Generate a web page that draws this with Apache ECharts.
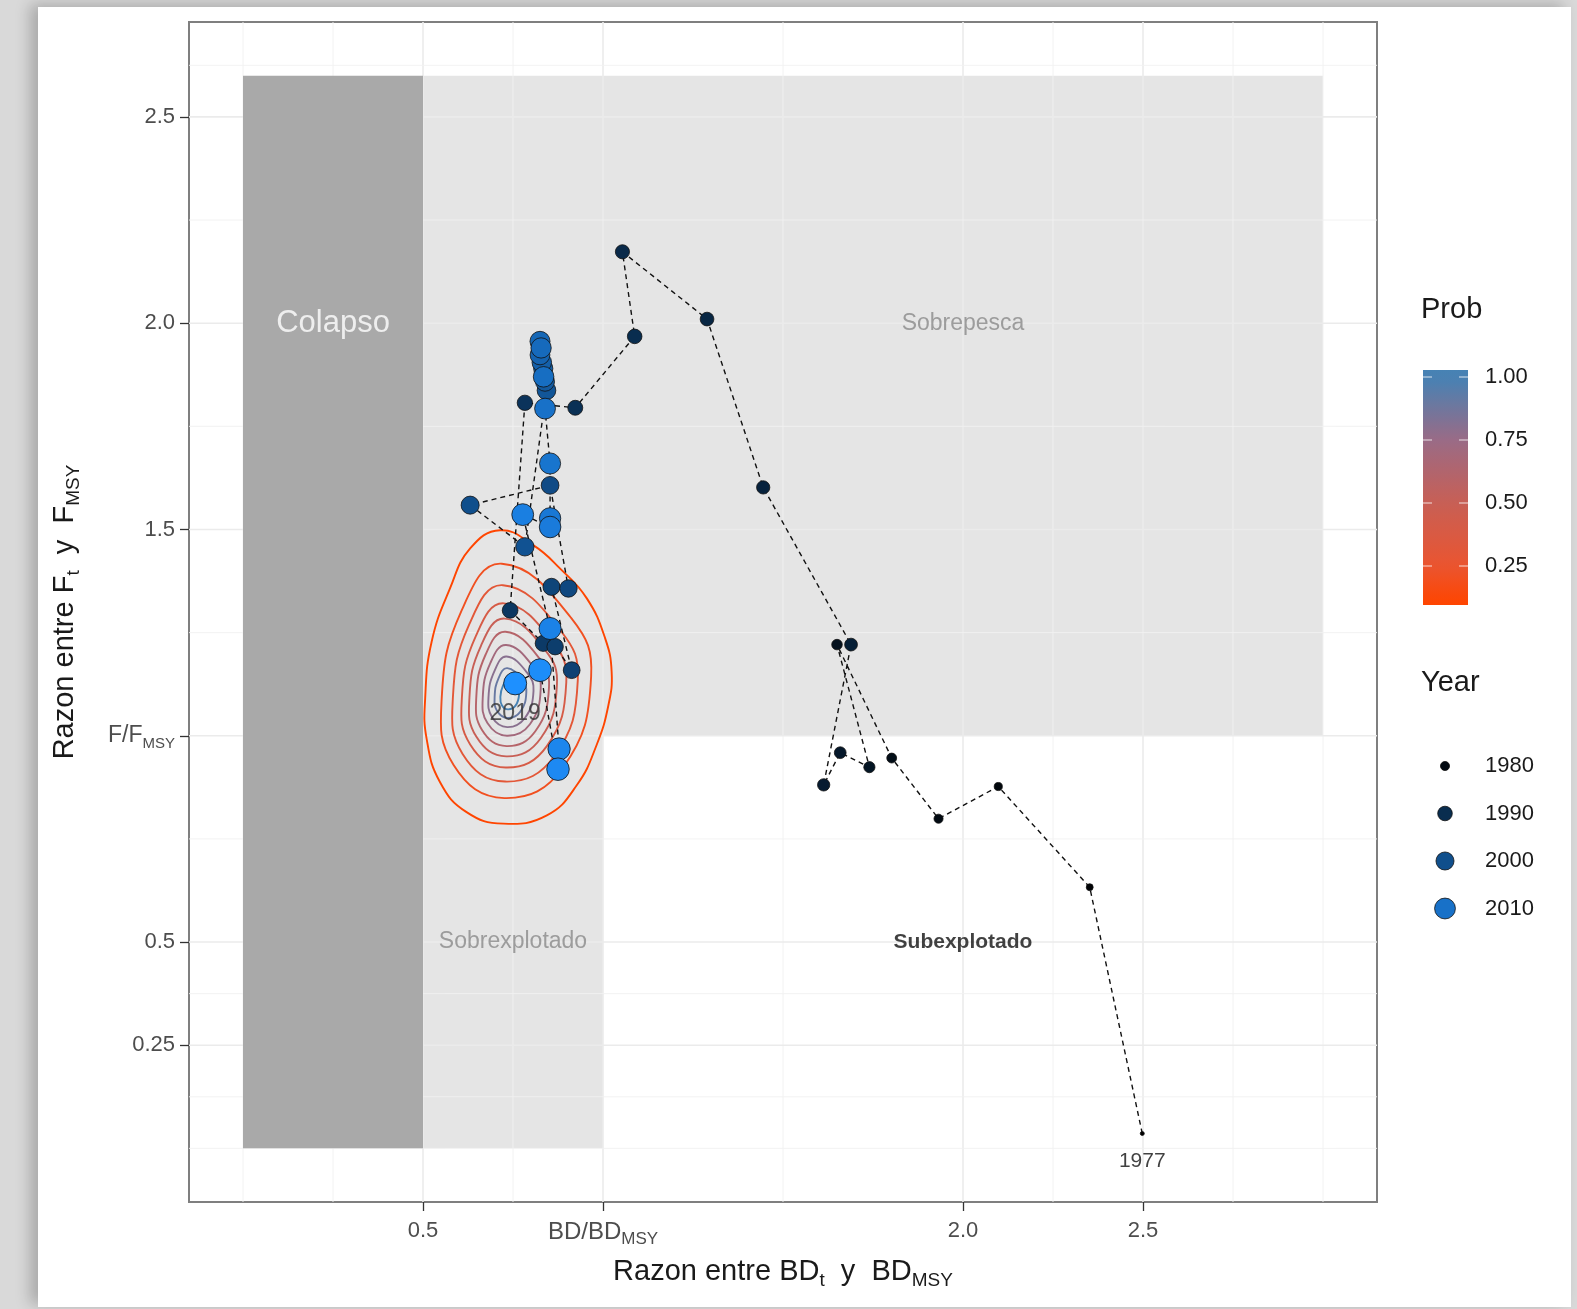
<!DOCTYPE html>
<html><head><meta charset="utf-8">
<script src="https://cdn.jsdelivr.net/npm/echarts@6/dist/echarts.min.js"></script>
<style>
html,body{margin:0;padding:0;width:1577px;height:1309px;background:#d9d9d9;overflow:hidden}
#card{position:absolute;left:38px;top:7px;width:1533px;height:1300px;background:#fff;box-shadow:-8px -3px 14px rgba(0,0,0,0.22)}
#chart{position:absolute;left:0;top:0;width:1577px;height:1309px}
</style></head><body><div id="card"></div><div id="chart"></div>
<script>
// ---------------- data ----------------
const years = [1977,1978,1979,1980,1981,1982,1983,1984,1985,1986,1987,1988,1989,1990,1991,1992,1993,1994,1995,1996,1997,1998,1999,2000,2001,2002,2003,2004,2005,2006,2007,2008,2009,2010,2011,2012,2013,2014,2015,2016,2017,2018,2019];
const bdRatio = [2.498,2.352,2.098,1.932,1.802,1.650,1.740,1.659,1.613,1.689,1.445,1.289,1.054,1.088,0.923,
                 0.783,0.742,0.834,0.867,0.913,0.857,0.904,0.853,0.631,0.783,
                 0.843,0.839,0.834,0.830,0.825,0.825,0.828,0.835,
                 0.839,0.853,0.853,0.853,0.777,0.853,0.878,0.875,0.825,0.756];
const fRatio  = [0.036,0.633,0.877,0.799,0.946,1.221,0.924,0.959,0.881,1.221,1.602,2.010,2.173,1.968,1.795,
                 1.807,1.304,1.224,1.216,1.159,1.361,1.357,1.607,1.559,1.458,
                 1.837,1.858,1.890,1.905,1.923,1.956,1.940,1.870,
                 1.793,1.660,1.527,1.506,1.536,1.260,0.968,0.919,1.159,1.127];

const xTickValues = [0.5, 1, 2, 2.5];
const yTickValues = [0.25, 0.5, 1, 1.5, 2, 2.5];
const xMinorGrid = [0, 0.25, 0.75, 1.5, 2.25, 2.75, 3.0];
const yMinorGrid = [0, 0.125, 0.375, 0.75, 1.25, 1.75, 2.25, 2.625];

const zoneNames = ['Colapso', 'Sobrepesca', 'Sobrexplotado', 'Subexplotado'];
const zoneX0 = [0, 0.5, 0.5, 1.0];
const zoneX1 = [0.5, 3.0, 1.0, 3.0];
const zoneY0 = [0, 1.0, 0, 0];
const zoneY1 = [2.6, 2.6, 1.0, 1.0];
const zoneLabelX = [0.25, 2.0, 0.75, 2.0];
const zoneLabelY = [2.0, 2.0, 0.5, 0.5];

const contourLevels = [0.1,0.2,0.3,0.4,0.5,0.6,0.7,0.8,0.9,1.0];
const contourRings = [
  [[0.714,1.498],[0.806,1.462],[0.881,1.405],[0.955,1.333],[1.006,1.236],[1.024,1.155],[1.015,1.074],[0.982,0.977],[0.927,0.880],[0.844,0.807],[0.723,0.787],[0.621,0.815],[0.547,0.888],[0.510,0.993],[0.506,1.090],[0.524,1.228],[0.575,1.357],[0.631,1.454]],
  [[0.719,1.417],[0.912,1.285],[0.967,1.143],[0.889,0.923],[0.726,0.849],[0.585,0.929],[0.552,1.091],[0.608,1.305]],
  [[0.722,1.365],[0.883,1.254],[0.930,1.135],[0.865,0.951],[0.728,0.889],[0.610,0.956],[0.583,1.092],[0.629,1.271]],
  [[0.725,1.321],[0.860,1.228],[0.898,1.129],[0.844,0.975],[0.730,0.923],[0.631,0.979],[0.608,1.092],[0.647,1.242]],
  [[0.727,1.284],[0.840,1.207],[0.872,1.123],[0.827,0.994],[0.731,0.950],[0.648,0.998],[0.629,1.093],[0.661,1.218]],
  [[0.729,1.252],[0.823,1.188],[0.850,1.118],[0.812,1.011],[0.732,0.975],[0.664,1.014],[0.648,1.093],[0.674,1.197]],
  [[0.731,1.220],[0.805,1.169],[0.827,1.114],[0.797,1.028],[0.733,1.000],[0.679,1.031],[0.666,1.093],[0.687,1.176]],
  [[0.732,1.192],[0.790,1.152],[0.807,1.109],[0.783,1.043],[0.734,1.021],[0.692,1.045],[0.682,1.094],[0.699,1.158]],
  [[0.734,1.164],[0.775,1.135],[0.787,1.105],[0.770,1.058],[0.735,1.043],[0.706,1.060],[0.699,1.094],[0.710,1.140]],
  [[0.736,1.135],[0.760,1.119],[0.767,1.101],[0.757,1.073],[0.736,1.064],[0.719,1.074],[0.715,1.095],[0.722,1.121]]
];

const probTicks = [0.25, 0.5, 0.75, 1.0];
const probStops = [0.1, 0.25, 0.5, 0.75, 1.0];
const probColors = ['#ff4500', '#ea5530', '#c85f55', '#9a6b86', '#4682b4'];
const yearLegend = [1980, 1990, 2000, 2010];

// ---------------- helpers ----------------
const FONT = '"Liberation Sans", Arial, sans-serif';
function hex2rgb(h){return [parseInt(h.slice(1,3),16),parseInt(h.slice(3,5),16),parseInt(h.slice(5,7),16)];}
function rgb2hex(c){return '#'+c.map(v=>Math.round(v).toString(16).padStart(2,'0')).join('');}
function lerpColor(a,b,t){const A=hex2rgb(a),B=hex2rgb(b);return rgb2hex(A.map((v,i)=>v+(B[i]-v)*t));}
function probColor(p){
  if(p<=probStops[0]) return probColors[0];
  for(let i=1;i<probStops.length;i++){
    if(p<=probStops[i]){const t=(p-probStops[i-1])/(probStops[i]-probStops[i-1]);return lerpColor(probColors[i-1],probColors[i],t);}
  }
  return probColors[probColors.length-1];
}
const yMin = years[0], yMax = years[years.length-1];
function yearColor(y){return lerpColor('#000000','#1e90ff',(y-yMin)/(yMax-yMin));}
function yearSize(y){return 4 + 19*Math.sqrt((y-yMin)/(yMax-yMin));}

const points = years.map((y,i)=>[bdRatio[i], fRatio[i], y]);
const X_MIN=-0.15, X_MAX=3.15, Y_MIN=-0.13, Y_MAX=2.73;

// ---------------- legend graphics ----------------
const barX = 1423, barW = 45, barTop = 370, barBot = 605;
const yOfProb = p => 377 + (1-p)*252;
const gradStops = [];
for (let k=0;k<=20;k++){
  const off = k/20; const py = barTop + off*(barBot-barTop);
  const p = 1 - (py-377)/252;
  gradStops.push({offset:off, color: probColor(Math.min(1,p))});
}
const graphics = [
  {type:'text', left:1421, top:295, style:{text:'Prob', font:'29px '+FONT, fill:'#1a1a1a'}},
  {type:'rect', shape:{x:barX,y:barTop,width:barW,height:barBot-barTop}, style:{fill:new echarts.graphic.LinearGradient(0,0,0,1,gradStops)}},
  {type:'text', left:1421, top:668, style:{text:'Year', font:'29px '+FONT, fill:'#1a1a1a'}}
];
probTicks.forEach(p=>{
  const py = yOfProb(p);
  graphics.push({type:'line', shape:{x1:barX,y1:py,x2:barX+9,y2:py}, style:{stroke:'rgba(255,255,255,0.8)',lineWidth:1}});
  graphics.push({type:'line', shape:{x1:barX+barW-9,y1:py,x2:barX+barW,y2:py}, style:{stroke:'rgba(255,255,255,0.8)',lineWidth:1}});
  graphics.push({type:'text', left:1485, top:py-11, style:{text:p.toFixed(2), font:'22px '+FONT, fill:'#1a1a1a'}});
});
yearLegend.forEach((y,i)=>{
  const cy = 766 + i*47.5;
  const r = yearSize(y)/2;
  graphics.push({type:'circle', shape:{cx:1445, cy:cy, r:r}, style:{fill:yearColor(y), stroke:'#111', lineWidth:0.8}});
  graphics.push({type:'text', left:1485, top:cy-11, style:{text:String(y), font:'22px '+FONT, fill:'#1a1a1a'}});
});

// ---------------- chart ----------------
const chart = echarts.init(document.getElementById('chart'), null, {renderer:'canvas'});
const subRich = (fs, sfs, col, bold) => ({
  a:{fontSize:fs, color:col, fontFamily:FONT, lineHeight:fs+8, fontWeight: bold?'bold':'normal'},
  s:{fontSize:sfs, color:col, fontFamily:FONT, lineHeight:fs+8, verticalAlign:'bottom', fontWeight: bold?'bold':'normal'}
});

const zoneFill = ['#a9a9a9', '#e5e5e5', '#e5e5e5', '#ffffff'];
const zoneLabelStyle = [
  {color:'#ffffff', fontSize:31, fontWeight:'normal'},
  {color:'#8a8a8a', fontSize:23, fontWeight:'normal'},
  {color:'#8a8a8a', fontSize:23, fontWeight:'normal'},
  {color:'#111111', fontSize:21, fontWeight:'bold'}
];
const gridData = [
  ...xTickValues.map(v=>[v,0,1]), ...xMinorGrid.map(v=>[v,0,0]),
  ...yTickValues.map(v=>[v,1,1]), ...yMinorGrid.map(v=>[v,1,0])
];
function zoneSeries(idxList, z){
  return {
    type:'custom', coordinateSystem:'cartesian2d', z:z, silent:true, clip:true,
    data: idxList.map(i=>[zoneX0[i], zoneY0[i], zoneX1[i], zoneY1[i], i]),
    encode:{x:[0,2], y:[1,3]},
    renderItem:(params, api)=>{
      const tl = api.coord([api.value(0), api.value(3)]);
      const br = api.coord([api.value(2), api.value(1)]);
      return {type:'rect', shape:{x:tl[0], y:tl[1], width:br[0]-tl[0], height:br[1]-tl[1]},
        style:{fill: zoneFill[api.value(4)]}};
    }
  };
}

const option = {
  animation:false,
  backgroundColor:'transparent',
  textStyle:{fontFamily:FONT},
  graphic: graphics,
  grid:{left:189, top:22, width:1188, height:1180, show:true, borderColor:'#7f7f7f', borderWidth:2, backgroundColor:'#ffffff'},
  xAxis:{
    type:'value', min:X_MIN, max:X_MAX,
    axisLine:{show:false, onZero:false},
    splitLine:{show:false},
    axisTick:{show:true, customValues:xTickValues, length:9, lineStyle:{color:'#333', width:1.3}},
    axisLabel:{show:true, customValues:xTickValues, margin:14, color:'#4d4d4d', fontSize:22,
      formatter:v => v===1 ? '{b|BD/BD}{t|MSY}' : '{a|'+v.toFixed(1)+'}',
      rich: Object.assign(subRich(22, 15, '#4d4d4d'), {
        b:{fontSize:24, color:'#4d4d4d', fontFamily:FONT, lineHeight:32},
        t:{fontSize:17, color:'#4d4d4d', fontFamily:FONT, lineHeight:32, verticalAlign:'bottom'}})},
    name:'{a|Razon entre BD}{s|t}{a|  y  BD}{s|MSY}', nameLocation:'middle', nameGap:51,
    nameTextStyle:{rich: subRich(29, 19, '#1a1a1a')}
  },
  yAxis:{
    type:'value', min:Y_MIN, max:Y_MAX,
    axisLine:{show:false, onZero:false},
    splitLine:{show:false},
    axisTick:{show:true, customValues:yTickValues, length:9, lineStyle:{color:'#333', width:1.3}},
    axisLabel:{show:true, customValues:yTickValues, margin:14, color:'#4d4d4d', fontSize:22,
      formatter:v => v===1 ? '{b|F/F}{t|MSY}' : '{a|'+(v===0.25?'0.25':v.toFixed(1))+'}',
      rich: Object.assign(subRich(22, 15, '#4d4d4d'), {
        b:{fontSize:23, color:'#4d4d4d', fontFamily:FONT, lineHeight:31},
        t:{fontSize:15, color:'#4d4d4d', fontFamily:FONT, lineHeight:31, verticalAlign:'bottom'}})},
    name:'{a|Razon entre F}{s|t}{a|  y  F}{s|MSY}', nameLocation:'middle', nameGap:106, nameRotate:90,
    nameTextStyle:{rich: subRich(29, 19, '#1a1a1a')}
  },
  series:[
    zoneSeries([1,2], 1), // light zones (grid shows over them)
    { // grid lines
      type:'custom', coordinateSystem:'cartesian2d', z:2, silent:true, clip:true,
      data: gridData,
      encode:{x:0, y:0},
      renderItem:(params, api)=>{
        const v = api.value(0), o = api.value(1), m = api.value(2);
        const p1 = o===0 ? api.coord([v, Y_MIN]) : api.coord([X_MIN, v]);
        const p2 = o===0 ? api.coord([v, Y_MAX]) : api.coord([X_MAX, v]);
        return {type:'line', shape:{x1:p1[0],y1:p1[1],x2:p2[0],y2:p2[1]},
          style:{stroke: m ? '#ebebeb' : '#f0f0f0', lineWidth: m ? 1.6 : 0.9}};
      }
    },
    zoneSeries([0], 3), // collapse zone covers the grid
    { // density contours
      type:'custom', coordinateSystem:'cartesian2d', z:4, silent:true, clip:true,
      data: contourLevels.map((lv,i)=>[contourRings[i][0][0], contourRings[i][0][1], lv]),
      renderItem:(params, api)=>{
        const i = params.dataIndex;
        const pts = contourRings[i].map(p=>api.coord(p));
        return {type:'polygon', shape:{points:pts, smooth:0.45},
          style:{fill:'none', stroke:probColor(contourLevels[i]), lineWidth:1.9}};
      }
    },
    { // trajectory path
      type:'line', z:5, silent:true, symbol:'none', smooth:false,
      data: points.map(p=>[p[0],p[1]]),
      lineStyle:{color:'#111', width:1.4, type:[5,4]}
    },
    { // points
      type:'scatter', z:6, silent:true,
      data: points,
      symbolSize:(v)=>yearSize(v[2]),
      itemStyle:{color:(p)=>yearColor(p.value[2]), borderColor:'#111', borderWidth:0.8, opacity:1}
    },
    { // zone labels
      type:'scatter', z:8, silent:true, symbolSize:0,
      data: zoneNames.map((n,i)=>({value:[zoneLabelX[i], zoneLabelY[i]], name:n,
        label:{show:true, position:'inside', formatter:n, fontFamily:FONT, ...zoneLabelStyle[i]}}))
    },
    { // year labels
      type:'scatter', z:9, silent:true, symbolSize:0,
      data:[
        {value:[bdRatio[years.length-1], fRatio[years.length-1]], label:{show:true, formatter:String(years[years.length-1]), position:'bottom', distance:19, color:'#333', fontSize:23, fontFamily:FONT}},
        {value:[bdRatio[0], fRatio[0]], label:{show:true, formatter:String(years[0]), position:'bottom', distance:17, color:'#111', fontSize:21, fontFamily:FONT}}
      ]
    }
  ]
};
chart.setOption(option);
</script></body></html>
